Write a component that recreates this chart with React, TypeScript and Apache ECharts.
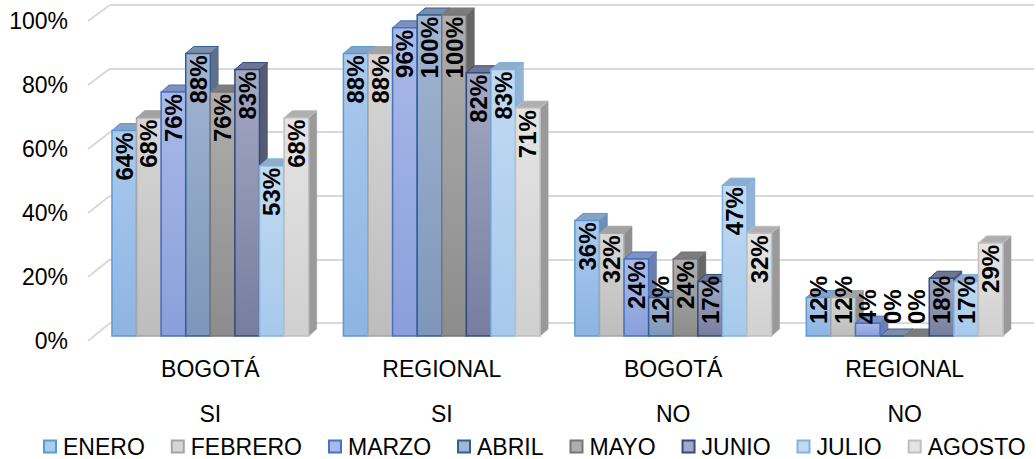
import React, { useEffect, useRef } from "react";
import * as echarts from "echarts";

const CATEGORIES = ["BOGOTÁ\nSI", "REGIONAL\nSI", "BOGOTÁ\nNO", "REGIONAL\nNO"];
const MONTHS = ["ENERO", "FEBRERO", "MARZO", "ABRIL", "MAYO", "JUNIO", "JULIO", "AGOSTO"];
const ENERO = [64, 88, 36, 12];
const FEBRERO = [68, 88, 32, 12];
const MARZO = [76, 96, 24, 4];
const ABRIL = [88, 100, 12, 0];
const MAYO = [76, 100, 24, 0];
const JUNIO = [83, 82, 17, 18];
const JULIO = [53, 83, 47, 17];
const AGOSTO = [68, 71, 32, 29];
const SERIES_VALUES = [ENERO, FEBRERO, MARZO, ABRIL, MAYO, JUNIO, JULIO, AGOSTO];
const Y_TICKS = [0, 20, 40, 60, 80, 100];

const STYLES = [
  { top: "#AACAEE", bottom: "#8DB4E2", border: "#5B9BD5", lid: "#86A2C6", side: "#6F8DB6" },
  { top: "#D6D6D6", bottom: "#BDBDBD", border: "#A6A6A6", lid: "#A2A2A2", side: "#8E8E8E" },
  { top: "#A9B9E8", bottom: "#8A9FDB", border: "#4472C4", lid: "#7F91BC", side: "#6C7FAE" },
  { top: "#A2B5D2", bottom: "#7E96B9", border: "#2E6096", lid: "#7C8EA8", side: "#5F6F8A" },
  { top: "#AEAEAE", bottom: "#8C8C8C", border: "#777777", lid: "#7C7C7C", side: "#666666" },
  { top: "#A3A8C3", bottom: "#777D9D", border: "#2F4B83", lid: "#707692", side: "#565B74" },
  { top: "#C0DAF2", bottom: "#A6C9EB", border: "#7FB2E3", lid: "#8EACCB", side: "#93B3D6" },
  { top: "#E4E4E4", bottom: "#D0D0D0", border: "#BFBFBF", lid: "#AFAFAF", side: "#9A9A9A" },
];

const FONT = "Liberation Sans";
const LABEL_SIZE = 24;
const GAP = 0.15;
const DX = 8;
const DY = -7;

let measureCtx: CanvasRenderingContext2D | null = null;
function measure(text: string): number {
  if (!measureCtx) measureCtx = document.createElement("canvas").getContext("2d");
  if (!measureCtx) return text.length * 14;
  measureCtx.font = `bold ${LABEL_SIZE}px "${FONT}"`;
  return measureCtx.measureText(text).width;
}

function makeRender(si: number) {
  return (params: any, api: any) => {
    const ci = api.value(0);
    const v = api.value(1);
    const base = api.coord([ci, 0]);
    const top = api.coord([ci, v]);
    const band = api.size([1, 0])[0];
    const gw = band * (1 - GAP);
    const bw = gw / MONTHS.length;
    const x0 = base[0] - gw / 2 + si * bw;
    const x1 = x0 + bw;
    const yb = base[1];
    const yt = top[1];
    const s = STYLES[si];
    const label = `${v}%`;
    const L = measure(label);
    const ly = Math.min(yt + 2, yb - 12 - L);
    return {
      type: "group",
      children: [
        {
          type: "polygon",
          shape: { points: [[x1, yt], [x1 + DX, yt + DY], [x1 + DX, yb + DY], [x1, yb]] },
          style: { fill: s.side, stroke: s.side, lineWidth: 0.5 },
        },
        {
          type: "polygon",
          shape: { points: [[x0, yt], [x0 + DX, yt + DY], [x1 + DX, yt + DY], [x1, yt]] },
          style: { fill: s.lid, stroke: s.border, lineWidth: 1 },
        },
        {
          type: "rect",
          shape: { x: x0, y: yt, width: bw, height: Math.max(0, yb - yt) },
          style: {
            fill: new echarts.graphic.LinearGradient(0, 0, 0, 1, [
              { offset: 0, color: s.top },
              { offset: 1, color: s.bottom },
            ]),
            stroke: s.border,
            lineWidth: 1.5,
          },
        },
        {
          type: "text",
          x: (x0 + x1) / 2,
          y: ly,
          rotation: Math.PI / 2,
          z2: 100,
          style: {
            text: label,
            align: "right",
            verticalAlign: "middle",
            fontSize: LABEL_SIZE,
            fontWeight: "bold",
            fontFamily: FONT,
            fill: "#000000",
          },
        },
      ],
    };
  };
}

export default function App() {
  const ref = useRef<HTMLDivElement>(null);
  useEffect(() => {
    document.body.style.margin = "0";
    if (!ref.current) return;
    const chart = echarts.init(ref.current, null, { renderer: "svg" });
    const gridA = { left: 88, right: 10, top: 21, bottom: 459 - 341 };
    const gridB = { left: 110, right: 2, top: 5, bottom: 459 - 323 };
    const gridC = { left: 94.6, right: 1036 - 1020.4, top: 15, bottom: 459 - 336 };
    const yBase = { type: "value", min: 0, max: 100, interval: 20 };
    const option: any = {
      animation: false,
      backgroundColor: "#ffffff",
      textStyle: { fontFamily: FONT },
      grid: [gridA, gridB, gridC],
      xAxis: [
        { gridIndex: 0, type: "value", min: 0, max: 1, show: false },
        { gridIndex: 1, type: "value", min: 0, max: 1, show: false },
        {
          gridIndex: 2,
          type: "category",
          data: CATEGORIES,
          axisLine: { show: false },
          axisTick: { show: false },
          axisLabel: {
            margin: 10,
            fontSize: 23,
            lineHeight: 45,
            color: "#000000",
            fontFamily: FONT,
          },
        },
      ],
      yAxis: [
        {
          ...yBase,
          gridIndex: 0,
          axisLine: { show: false },
          axisTick: { show: false },
          splitLine: { show: false },
          axisLabel: {
            formatter: "{value}%",
            margin: 20,
            fontSize: 23,
            color: "#000000",
            fontFamily: FONT,
          },
        },
        {
          ...yBase,
          gridIndex: 1,
          axisLine: { show: false },
          axisTick: { show: false },
          axisLabel: { show: false },
          splitLine: { show: true, lineStyle: { color: "#D9D9D9", width: 2 } },
        },
        {
          ...yBase,
          gridIndex: 2,
          axisLine: { show: false },
          axisTick: { show: false },
          axisLabel: { show: false },
          splitLine: { show: false },
        },
      ],
      legend: {
        data: MONTHS,
        left: 38,
        top: 430,
        icon: "rect",
        itemWidth: 12,
        itemHeight: 12,
        itemGap: 26,
        textStyle: { fontSize: 23, color: "#000000", fontFamily: FONT, padding: [0, 0, 0, 2] },
      },
      series: MONTHS.map((name, si) => ({
        type: "custom",
        name,
        xAxisIndex: 2,
        yAxisIndex: 2,
        renderItem: makeRender(si),
        encode: { x: 0, y: 1 },
        data: SERIES_VALUES[si].map((v, ci) => [ci, v]),
        itemStyle: { color: STYLES[si].top, borderColor: STYLES[si].border, borderWidth: 1 },
      })),
    };
    chart.setOption(option);
    const stubs = Y_TICKS.map((t) => {
      const ya = chart.convertToPixel({ yAxisIndex: 0 }, t) as number;
      const yb = chart.convertToPixel({ yAxisIndex: 1 }, t) as number;
      return {
        type: "line",
        shape: { x1: gridA.left, y1: ya, x2: gridB.left, y2: yb },
        style: { stroke: "#D9D9D9", lineWidth: 2 },
        z: 0,
      };
    });
    chart.setOption({ graphic: stubs });
    return () => chart.dispose();
  }, []);
  return <div ref={ref} style={{ width: 1036, height: 459 }} />;
}
